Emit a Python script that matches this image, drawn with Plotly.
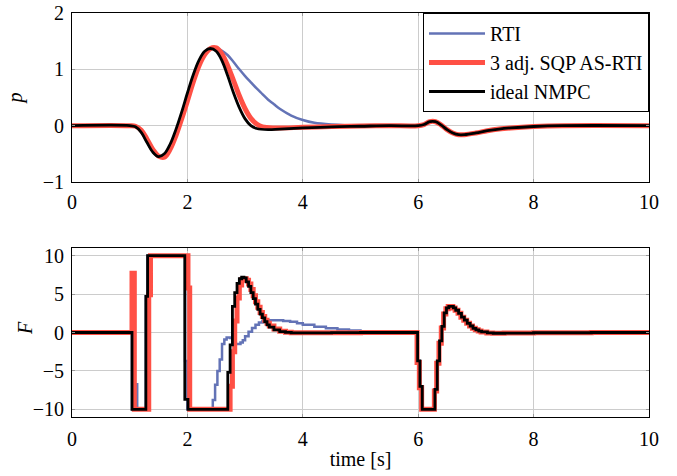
import plotly.graph_objects as go

# ---------------- data ----------------
# top plot: p over time
t_p_rti = [0, 1.0, 1.1, 1.2, 1.3, 1.4, 1.5, 1.6, 1.7, 1.8, 1.9, 2.0, 2.1, 2.2, 2.3, 2.4, 2.5,
           2.6, 2.7, 2.8, 2.9, 3.0, 3.1, 3.2, 3.3, 3.4, 3.5, 3.6, 3.8, 4.0, 4.2, 4.5, 5.0, 5.5, 6.0,
           6.1, 6.2, 6.3, 6.4, 6.5, 6.6, 6.7, 6.8, 7.0, 7.2, 7.4, 7.6, 8.0, 8.5, 10]
p_rti = [0, 0, -0.01, -0.08, -0.24, -0.42, -0.54, -0.56, -0.42, -0.18, 0.12, 0.44, 0.77, 1.06, 1.26, 1.37, 1.38,
         1.33, 1.25, 1.13, 1.00, 0.88, 0.77, 0.66, 0.56, 0.46, 0.38, 0.30, 0.18, 0.10, 0.05, 0.02, 0, 0, 0,
         0.02, 0.07, 0.07, 0.01, -0.07, -0.13, -0.16, -0.16, -0.13, -0.09, -0.06, -0.04, -0.015, 0, 0]

t_p_sqp = [0, 1.0, 1.1, 1.2, 1.3, 1.4, 1.5, 1.6, 1.7, 1.8, 1.9, 2.0, 2.1, 2.2, 2.3, 2.4, 2.5,
           2.6, 2.7, 2.8, 2.9, 3.0, 3.1, 3.2, 3.3, 3.5, 4.0, 4.5, 5.0, 5.5, 6.0,
           6.1, 6.2, 6.3, 6.4, 6.5, 6.6, 6.7, 6.8, 7.0, 7.2, 7.4, 7.6, 8.0, 8.5, 10]
p_sqp = [0, 0, -0.01, -0.08, -0.24, -0.42, -0.54, -0.56, -0.42, -0.18, 0.12, 0.44, 0.77, 1.06, 1.26, 1.37, 1.38,
         1.27, 1.06, 0.80, 0.53, 0.30, 0.13, 0.03, -0.02, -0.04, -0.03, -0.015, -0.005, 0, 0,
         0.02, 0.07, 0.07, 0.01, -0.07, -0.13, -0.16, -0.16, -0.13, -0.09, -0.06, -0.04, -0.015, 0, 0]

t_p_ideal = [0, 1.0, 1.1, 1.2, 1.3, 1.4, 1.5, 1.6, 1.7, 1.8, 1.9, 2.0, 2.1, 2.2, 2.3, 2.4, 2.5,
             2.6, 2.7, 2.8, 2.9, 3.0, 3.1, 3.2, 3.4, 3.6, 4.0, 4.5, 5.0, 5.5, 6.0,
             6.1, 6.2, 6.3, 6.4, 6.5, 6.6, 6.7, 6.8, 7.0, 7.2, 7.4, 7.6, 8.0, 8.5, 10]
p_ideal = [0, 0, -0.02, -0.12, -0.30, -0.47, -0.55, -0.50, -0.33, -0.07, 0.24, 0.58, 0.90, 1.16, 1.32, 1.37, 1.32,
           1.15, 0.88, 0.58, 0.32, 0.12, 0.0, -0.05, -0.07, -0.06, -0.04, -0.02, -0.01, 0, 0,
           0.02, 0.07, 0.07, 0.01, -0.07, -0.13, -0.16, -0.16, -0.13, -0.09, -0.06, -0.04, -0.015, 0, 0]

# bottom plot: F over time (zero-order hold)
t_F_rti = [0, 1.04, 1.10, 1.13, 1.28, 1.31, 1.96, 2.0, 2.44, 2.48, 2.52, 2.56, 2.60, 2.64, 2.68, 2.74, 2.78,
           2.82, 2.88, 2.92, 2.96, 3.0, 3.06, 3.12, 3.18, 3.24, 3.30, 3.38, 3.46, 3.56, 3.66, 3.78, 3.90,
           4.0, 4.2, 4.4, 4.6, 4.8, 5.0, 5.2, 5.5, 5.99, 6.03, 6.07, 6.29, 6.33, 6.37, 6.41, 6.45, 6.49,
           6.53, 6.61, 6.65, 6.70, 6.75, 6.80, 6.85, 6.90, 6.95, 7.00, 7.05, 7.10, 7.20, 7.30, 7.50, 8.0, 9.0, 10]
F_rti = [0, -10, -6.75, -10, 4.7, 10, -3.7, -10, -8.8, -6.8, -5.0, -3.5, -1.5, -0.9, -0.65, -0.7, -1.2,
         -1.5, -1.5, -1.3, -1.0, -0.5, 0.1, 0.6, 1.0, 1.3, 1.45, 1.58, 1.6, 1.58, 1.5, 1.4, 1.2,
         1.0, 0.75, 0.55, 0.4, 0.25, 0.15, 0.07, 0.02, -3.7, -7.0, -10, -7.4, -3.7, -1.1, 0.8, 2.55, 3.2,
         3.4, 3.2, 2.9, 2.5, 2.0, 1.6, 1.2, 0.85, 0.55, 0.35, 0.18, 0.07, -0.05, -0.1, -0.08, -0.03, 0, 0]

t_F_sqp = [0, 1.04, 1.08, 1.33, 1.36, 2.01, 2.04, 2.74, 2.78, 2.82, 2.86, 2.90, 2.94, 2.98, 3.02, 3.06,
           3.10, 3.14, 3.18, 3.22, 3.26, 3.30, 3.34, 3.38, 3.42, 3.50, 3.60, 3.70, 3.80, 4.5, 5.0,
           5.98, 6.02, 6.06, 6.28, 6.32, 6.36, 6.40, 6.44, 6.48, 6.52, 6.60, 6.64, 6.69, 6.74, 6.79,
           6.84, 6.89, 6.94, 6.99, 7.04, 7.09, 7.19, 7.29, 7.49, 8.0, 9.0, 10]
F_sqp = [0, 7.7, -10, 4.9, 10, 5.8, -10, -7.0, -2.5, 1.5, 4.5, 6.2, 6.9, 7.0, 6.8, 6.3,
         5.6, 4.8, 4.0, 3.3, 2.6, 2.1, 1.6, 1.2, 0.85, 0.45, 0.15, 0.03, -0.03, -0.02, 0,
         -3.9, -7.2, -10, -7.6, -4.0, -1.4, 0.6, 2.4, 3.1, 3.4, 3.2, 2.9, 2.5, 2.0, 1.6,
         1.2, 0.85, 0.55, 0.35, 0.18, 0.07, -0.05, -0.1, -0.08, -0.03, 0, 0]

t_F_ideal = [0, 1.04, 1.28, 1.31, 1.955, 2.01, 2.70, 2.74, 2.78, 2.82, 2.86, 2.90, 2.94, 2.98, 3.02,
             3.06, 3.10, 3.14, 3.18, 3.22, 3.26, 3.30, 3.34, 3.38, 3.42, 3.50, 3.60, 3.70, 3.80, 4.0,
             4.5, 5.0, 5.99, 6.03, 6.07, 6.29, 6.33, 6.37, 6.41, 6.45, 6.49, 6.53, 6.61, 6.65, 6.70,
             6.75, 6.80, 6.85, 6.90, 6.95, 7.00, 7.05, 7.10, 7.20, 7.30, 7.50, 8.0, 9.0, 10]
F_ideal = [0, -10, 4.7, 10, -8.7, -10, -5.2, -1.6, 3.4, 5.2, 6.4, 7.0, 7.2, 7.1, 6.6,
           6.0, 5.2, 4.4, 3.7, 3.0, 2.4, 1.9, 1.4, 1.0, 0.7, 0.35, 0.12, 0.02, -0.05, -0.05,
           -0.02, 0, -3.7, -7.0, -10, -7.4, -3.7, -1.1, 0.8, 2.55, 3.2, 3.4, 3.2, 2.9, 2.5,
           2.0, 1.6, 1.2, 0.85, 0.55, 0.35, 0.18, 0.07, -0.05, -0.1, -0.08, -0.03, 0, 0]

names = ["RTI", "3 adj. SQP AS-RTI", "ideal NMPC"]
colors = ["#6373b6", "#ff5045", "#000000"]
widths = [2.5, 5, 2.8]

x_ticks = [0, 2, 4, 6, 8, 10]
p_ticks = [-1, 0, 1, 2]
F_ticks = [-10, -5, 0, 5, 10]

# ---------------- figure ----------------
FONT = "Liberation Serif"
FS = 20
fig = go.Figure()

top = [(t_p_rti, p_rti), (t_p_sqp, p_sqp), (t_p_ideal, p_ideal)]
bot = [(t_F_rti, F_rti), (t_F_sqp, F_sqp), (t_F_ideal, F_ideal)]

for i, (tt, yy) in enumerate(top):
    fig.add_trace(go.Scatter(x=tt, y=yy, mode="lines", name=names[i],
                             line=dict(color=colors[i], width=widths[i], shape="spline", smoothing=1.0),
                             xaxis="x", yaxis="y", showlegend=True))
for i, (tt, yy) in enumerate(bot):
    fig.add_trace(go.Scatter(x=tt, y=yy, mode="lines", name=names[i],
                             line=dict(color=colors[i], width=widths[i], shape="hv"),
                             xaxis="x2", yaxis="y2", showlegend=False))

axis_common = dict(showgrid=True, gridcolor="#cccccc", gridwidth=1, zeroline=False,
                   showline=True, linecolor="black", linewidth=1, mirror="allticks",
                   ticks="inside", ticklen=3, tickcolor="#999999", automargin=False,
                   tickfont=dict(family=FONT, size=FS, color="black"))

fig.update_layout(
    width=677, height=476,
    margin=dict(l=72, r=28, t=13, b=59, autoexpand=False),
    paper_bgcolor="white", plot_bgcolor="white",
    font=dict(family=FONT, size=FS, color="black"),
    xaxis=dict(domain=[0, 1], anchor="y", range=[0, 10], tickvals=x_ticks,
               ticklabelstandoff=2, **axis_common),
    yaxis=dict(domain=[0.5817, 1], anchor="x", range=[-1, 2], tickvals=p_ticks,
               ticklabelstandoff=3,
               title=dict(text="<i>p</i>", standoff=14, font=dict(family=FONT, size=FS)), **axis_common),
    xaxis2=dict(domain=[0, 1], anchor="y2", range=[0, 10], tickvals=x_ticks,
                ticklabelstandoff=4,
                title=dict(text="time [s]", standoff=2, font=dict(family=FONT, size=FS)), **axis_common),
    yaxis2=dict(domain=[0, 0.4183], anchor="x2", range=[-11, 11], tickvals=F_ticks,
                ticklabelstandoff=3, **axis_common),
    annotations=[dict(text="<i>F</i>", xref="paper", yref="paper", x=-0.0815, y=0.2203,
                      xanchor="center", yanchor="middle", textangle=-90, showarrow=False,
                      font=dict(family=FONT, size=FS, color="black"))],
    legend=dict(x=1, xanchor="right", y=1, yanchor="top", bgcolor="white",
                bordercolor="black", borderwidth=1, itemwidth=56,
                font=dict(family=FONT, size=20, color="black"), tracegroupgap=0),
)

fig.write_html("out.html", config={"displayModeBar": False},
               post_script="document.body.style.margin='0';")
